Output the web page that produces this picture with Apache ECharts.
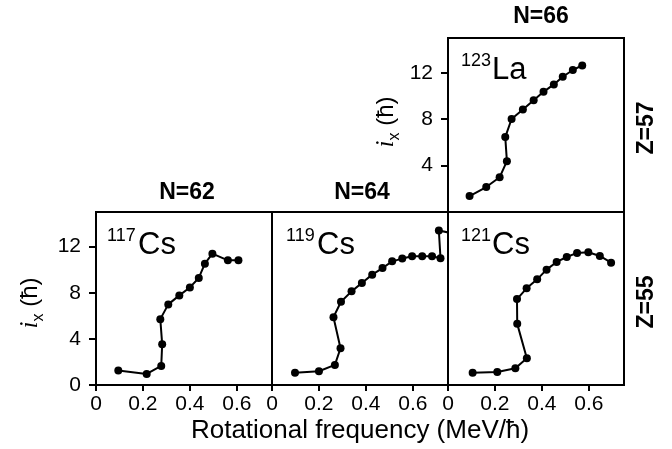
<!DOCTYPE html>
<html>
<head>
<meta charset="utf-8">
<script src="https://cdn.jsdelivr.net/npm/echarts@6/dist/echarts.min.js"></script>
<style>
  html, body { margin: 0; padding: 0; background: #fff; }
  #chart { width: 672px; height: 449px; }
</style>
</head>
<body>
<div id="chart"></div>
<script>
// rotational frequency (MeV/hbar) and aligned spin i_x (hbar)
const freq117 = [0.095, 0.216, 0.278, 0.282, 0.274, 0.308, 0.355, 0.400, 0.438, 0.464, 0.496, 0.562, 0.607];
const ix117 = [1.25, 0.96, 1.65, 3.54, 5.71, 6.99, 7.77, 8.46, 9.28, 10.52, 11.39, 10.81, 10.81];

const freq119 = [0.098, 0.200, 0.268, 0.292, 0.262, 0.294, 0.339, 0.383, 0.427, 0.471, 0.512, 0.555, 0.597, 0.640, 0.682, 0.718, 0.711, 0.780];
const ix119 = [1.07, 1.19, 1.74, 3.19, 5.88, 7.22, 8.12, 8.84, 9.57, 10.14, 10.72, 10.96, 11.16, 11.16, 11.16, 11.00, 13.40, 13.10];

const freq121 = [0.105, 0.210, 0.287, 0.336, 0.295, 0.294, 0.335, 0.380, 0.420, 0.463, 0.506, 0.550, 0.598, 0.647, 0.695];
const ix121 = [1.07, 1.13, 1.45, 2.32, 5.30, 7.45, 8.38, 9.16, 10.00, 10.67, 11.10, 11.45, 11.51, 11.19, 10.61];

const freq123 = [0.092, 0.163, 0.220, 0.251, 0.244, 0.271, 0.319, 0.365, 0.407, 0.451, 0.489, 0.532, 0.572];
const ix123 = [1.37, 2.15, 2.99, 4.38, 6.46, 8.02, 8.83, 9.64, 10.36, 11.00, 11.66, 12.24, 12.64];

const xTicks = [0, 0.2, 0.4, 0.6];
const yTicks = [0, 4, 8, 12];
const yTicksTop = [4, 8, 12];

const FONT = '"Liberation Sans", Arial, sans-serif';

const pairs = (xs, ys) => xs.map((x, i) => [x, ys[i]]);

// panel boxes: three on the bottom row, one on top of the right-hand one
const grids = [
  { left: 96, top: 212, width: 176, height: 173 },
  { left: 272, top: 212, width: 176, height: 173 },
  { left: 448, top: 212, width: 176, height: 173 },
  { left: 448, top: 38, width: 176, height: 174 }
].map(g => Object.assign(g, { show: true, borderColor: '#000', borderWidth: 2, containLabel: false }));

const xAxis = grids.map((g, i) => ({
  type: 'value',
  gridIndex: i,
  min: 0,
  max: 0.75,
  axisLine: { show: true, onZero: false, lineStyle: { color: '#000', width: 2 } },
  axisTick: { show: i < 3, length: 6, lineStyle: { color: '#000', width: 2 }, customValues: xTicks },
  axisLabel: {
    show: i < 3,
    customValues: xTicks,
    margin: 9,
    color: '#000',
    fontSize: 21,
    fontFamily: FONT,
    formatter: v => (v === 0 ? '0' : v.toFixed(1))
  },
  splitLine: { show: false }
}));

const yAxis = grids.map((g, i) => ({
  type: 'value',
  gridIndex: i,
  min: 0,
  max: 15,
  axisLine: { show: true, onZero: false, lineStyle: { color: '#000', width: 2 } },
  axisTick: {
    show: i === 0 || i === 3,
    length: 7,
    lineStyle: { color: '#000', width: 2 },
    customValues: i === 3 ? yTicksTop : yTicks
  },
  axisLabel: {
    show: i === 0 || i === 3,
    customValues: i === 3 ? yTicksTop : yTicks,
    margin: 15,
    color: '#000',
    fontSize: 21,
    fontFamily: FONT
  },
  splitLine: { show: false }
}));

const seriesData = [pairs(freq117, ix117), pairs(freq119, ix119), pairs(freq121, ix121), pairs(freq123, ix123)];

const series = seriesData.map((d, i) => ({
  type: 'line',
  xAxisIndex: i,
  yAxisIndex: i,
  data: d,
  clip: true,
  symbol: 'circle',
  symbolSize: 8,
  itemStyle: { color: '#000' },
  lineStyle: { color: '#000', width: 2 },
  animation: false
}));

// nucleus name with mass number as superscript
function nucleus(mass, sym, x, y) {
  return [
    { type: 'text', x: x, y: y, style: { text: mass, font: '18px ' + FONT, fill: '#000' } },
    { type: 'text', x: x + mass.length * 10 + 1, y: y + 3, style: { text: sym, font: '31px ' + FONT, fill: '#000' } }
  ];
}

function boldLabel(text, x, y, rot) {
  return {
    type: 'text', x: x, y: y, rotation: rot || 0,
    style: { text: text, font: 'bold 23px ' + FONT, fill: '#000', align: 'center', verticalAlign: 'middle' }
  };
}

function ixLabel(x, y) {
  return {
    type: 'text', x: x, y: y, rotation: Math.PI / 2,
    style: {
      text: '{i|i}{s|x}{n| (ħ)}',
      align: 'center',
      verticalAlign: 'middle',
      fill: '#000',
      rich: {
        i: { font: 'italic 25px "Liberation Serif", serif', fill: '#000', verticalAlign: 'bottom' },
        s: { font: '16px ' + FONT, fill: '#000', verticalAlign: 'bottom', padding: [0, 0, -4, 0] },
        n: { font: '24px ' + FONT, fill: '#000', verticalAlign: 'bottom' }
      }
    }
  };
}

const graphic = [].concat(
  nucleus('117', 'Cs', 107, 227),
  nucleus('119', 'Cs', 286, 227),
  nucleus('121', 'Cs', 461, 227),
  nucleus('123', 'La', 461, 52),
  [
    boldLabel('N=62', 187, 193),
    boldLabel('N=64', 362, 193),
    boldLabel('N=66', 541, 17),
    boldLabel('Z=57', 647, 128, Math.PI / 2),
    boldLabel('Z=55', 647, 302, Math.PI / 2),
    ixLabel(30, 303),
    ixLabel(386, 122),
    {
      type: 'text', x: 360, y: 431,
      style: { text: 'Rotational frequency (MeV/ħ)', font: '26px ' + FONT, fill: '#000', align: 'center', verticalAlign: 'middle' }
    }
  ]
);

const chart = echarts.init(document.getElementById('chart'));
chart.setOption({
  animation: false,
  backgroundColor: '#fff',
  grid: grids,
  xAxis: xAxis,
  yAxis: yAxis,
  series: series,
  graphic: graphic
});
</script>
</body>
</html>
